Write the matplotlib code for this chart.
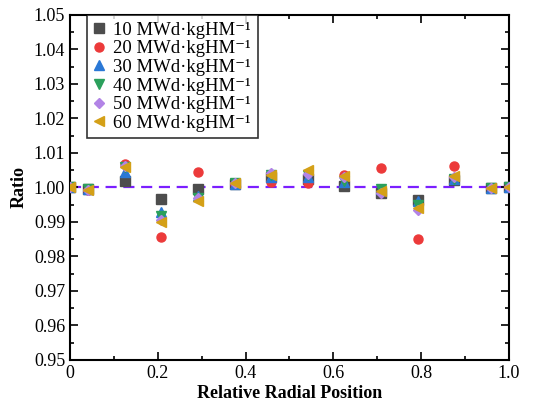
import numpy as np
import matplotlib.pyplot as plt
from matplotlib.ticker import MultipleLocator

plt.rcParams['font.family'] = ['Liberation Serif', 'DejaVu Serif']

pos = [0, 0.042, 0.125, 0.208, 0.292, 0.375, 0.458, 0.542, 0.625, 0.708, 0.792, 0.875, 0.958, 1.0]

r10 = [1.0002, 0.9996, 1.0018, 0.9966, 0.9996, 1.0010, 1.0030, 1.0025, 1.0005, 0.9985, 0.9965, 1.0023, 0.9998, 1.0002]
r20 = [1.0002, 0.9994, 1.0067, 0.9855, 1.0045, 1.0010, 1.0015, 1.0013, 1.0035, 1.0057, 0.9850, 1.0063, 0.9998, 1.0002]
r30 = [1.0002, 0.9995, 1.0046, 0.9928, 0.9975, 1.0010, 1.0030, 1.0030, 1.0015, 0.9995, 0.9960, 1.0025, 0.9998, 1.0002]
r40 = [1.0002, 0.9995, 1.0060, 0.9918, 0.9970, 1.0012, 1.0035, 1.0035, 1.0020, 0.9995, 0.9950, 1.0025, 0.9998, 1.0002]
r50 = [1.0002, 0.9993, 1.0063, 0.9905, 0.9968, 1.0012, 1.0042, 1.0040, 1.0030, 0.9985, 0.9935, 1.0030, 0.9998, 1.0002]
r60 = [1.0002, 0.9994, 1.0060, 0.9900, 0.9960, 1.0012, 1.0035, 1.0050, 1.0032, 0.9990, 0.9940, 1.0033, 0.9998, 1.0002]

series = [
    ('10', r10, 's', '#4d4d4d'),
    ('20', r20, 'o', '#ec3a3a'),
    ('30', r30, '^', '#2a78d6'),
    ('40', r40, 'v', '#2ba05c'),
    ('50', r50, 'D', '#b284e6'),
    ('60', r60, '<', '#d4a017'),
]

fig = plt.figure(figsize=(5.36, 4.04), dpi=100)
ax = fig.add_axes([0.1306, 0.109, 0.819, 0.854])

ax.axhline(1.0, color='#7b1fff', linestyle=(0, (5, 3)), linewidth=1.6, zorder=1)

for name, vals, m, c in series:
    ms = 5 if m == 'D' else 6.5
    ax.plot(pos, vals, linestyle='none', marker=m, color=c, markersize=ms,
            label=name + ' MWd·kgHM\u207b\u00b9', zorder=3)

ax.set_xlim(0, 1.0)
ax.set_ylim(0.95, 1.05)
ax.xaxis.set_minor_locator(MultipleLocator(0.1))
ax.yaxis.set_minor_locator(MultipleLocator(0.005))
ax.set_xticks([0, 0.2, 0.4, 0.6, 0.8, 1.0])
ax.set_xticklabels(['0', '0.2', '0.4', '0.6', '0.8', '1.0'], fontsize=13)
yt = np.round(np.arange(0.95, 1.0501, 0.01), 2)
ax.set_yticks(yt)
ax.set_yticklabels(['%.2f' % v for v in yt], fontsize=13)
ax.tick_params(which='both', direction='in', top=True, right=True, width=1.2)
ax.tick_params(which='major', length=6)
ax.tick_params(which='minor', length=3)
for s in ax.spines.values():
    s.set_linewidth(1.5)

ax.set_xlabel('Relative Radial Position', fontsize=13, fontweight='bold', labelpad=2)
ax.set_ylabel('Ratio', fontsize=13, fontweight='bold', labelpad=4)

leg = ax.legend(loc='upper left', bbox_to_anchor=(0.039, 1.0), fontsize=13.5, frameon=True,
                fancybox=False, edgecolor='black', handlelength=0.6, handletextpad=0.45,
                labelspacing=0.08, borderpad=0.35, borderaxespad=0.0)
leg.get_frame().set_linewidth(1.2)

fig.savefig('out.png', dpi=100)
